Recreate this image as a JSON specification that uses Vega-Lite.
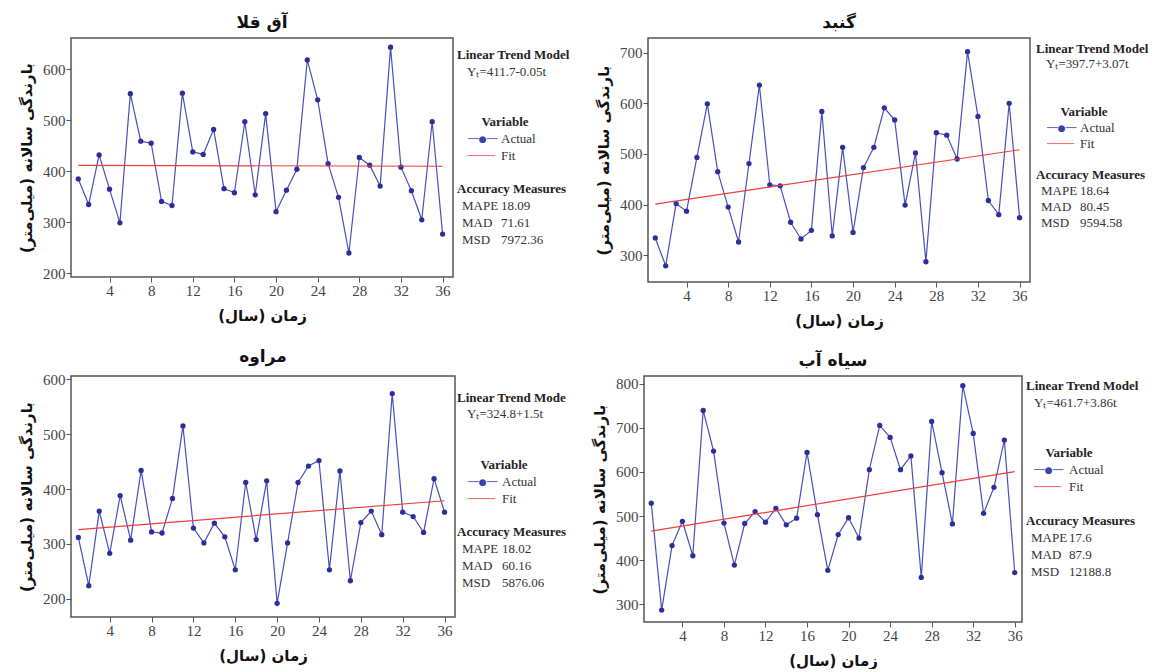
{
  "$schema": "https://vega.github.io/schema/vega-lite/v6.json",
  "padding": {"left": 18, "top": 13, "right": 0, "bottom": 0},
  "background": "white",
  "config": {
    "view": {"stroke": "#555", "strokeWidth": 1.5},
    "axis": {"grid": false, "domain": false, "tickColor": "#555", "tickSize": 5, "tickWidth": 1, "labelFont": "Liberation Serif", "labelFontSize": 15, "labelColor": "#444", "labelPadding": 1, "titleFont": "DejaVu Sans", "titleFontSize": 15, "titleFontWeight": "bold", "titleColor": "#111", "titlePadding": 8},
    "axisX": {"titlePadding": 10},
    "title": {"font": "DejaVu Sans", "fontSize": 17, "fontWeight": "bold", "color": "#111", "frame": "group", "anchor": "middle", "offset": 6},
    "text": {"font": "Liberation Serif", "fontSize": 13, "baseline": "middle", "align": "left", "color": "#333"}
  },
  "datasets": {
    "actual": [
      {"station": "آق قلا", "year": 1, "rain": 385}, {"station": "آق قلا", "year": 2, "rain": 335}, {"station": "آق قلا", "year": 3, "rain": 432}, {"station": "آق قلا", "year": 4, "rain": 365}, {"station": "آق قلا", "year": 5, "rain": 299}, {"station": "آق قلا", "year": 6, "rain": 552}, {"station": "آق قلا", "year": 7, "rain": 459}, {"station": "آق قلا", "year": 8, "rain": 455}, {"station": "آق قلا", "year": 9, "rain": 341}, {"station": "آق قلا", "year": 10, "rain": 333}, {"station": "آق قلا", "year": 11, "rain": 553}, {"station": "آق قلا", "year": 12, "rain": 438}, {"station": "آق قلا", "year": 13, "rain": 433}, {"station": "آق قلا", "year": 14, "rain": 482}, {"station": "آق قلا", "year": 15, "rain": 366}, {"station": "آق قلا", "year": 16, "rain": 358}, {"station": "آق قلا", "year": 17, "rain": 497}, {"station": "آق قلا", "year": 18, "rain": 354}, {"station": "آق قلا", "year": 19, "rain": 513}, {"station": "آق قلا", "year": 20, "rain": 321}, {"station": "آق قلا", "year": 21, "rain": 363}, {"station": "آق قلا", "year": 22, "rain": 404}, {"station": "آق قلا", "year": 23, "rain": 618}, {"station": "آق قلا", "year": 24, "rain": 540}, {"station": "آق قلا", "year": 25, "rain": 415}, {"station": "آق قلا", "year": 26, "rain": 349}, {"station": "آق قلا", "year": 27, "rain": 240}, {"station": "آق قلا", "year": 28, "rain": 427}, {"station": "آق قلا", "year": 29, "rain": 412}, {"station": "آق قلا", "year": 30, "rain": 371}, {"station": "آق قلا", "year": 31, "rain": 643}, {"station": "آق قلا", "year": 32, "rain": 408}, {"station": "آق قلا", "year": 33, "rain": 362}, {"station": "آق قلا", "year": 34, "rain": 305}, {"station": "آق قلا", "year": 35, "rain": 497}, {"station": "آق قلا", "year": 36, "rain": 277},
      {"station": "گنبد", "year": 1, "rain": 334}, {"station": "گنبد", "year": 2, "rain": 279}, {"station": "گنبد", "year": 3, "rain": 402}, {"station": "گنبد", "year": 4, "rain": 387}, {"station": "گنبد", "year": 5, "rain": 493}, {"station": "گنبد", "year": 6, "rain": 599}, {"station": "گنبد", "year": 7, "rain": 465}, {"station": "گنبد", "year": 8, "rain": 395}, {"station": "گنبد", "year": 9, "rain": 326}, {"station": "گنبد", "year": 10, "rain": 481}, {"station": "گنبد", "year": 11, "rain": 636}, {"station": "گنبد", "year": 12, "rain": 439}, {"station": "گنبد", "year": 13, "rain": 437}, {"station": "گنبد", "year": 14, "rain": 365}, {"station": "گنبد", "year": 15, "rain": 332}, {"station": "گنبد", "year": 16, "rain": 349}, {"station": "گنبد", "year": 17, "rain": 584}, {"station": "گنبد", "year": 18, "rain": 338}, {"station": "گنبد", "year": 19, "rain": 513}, {"station": "گنبد", "year": 20, "rain": 345}, {"station": "گنبد", "year": 21, "rain": 473}, {"station": "گنبد", "year": 22, "rain": 513}, {"station": "گنبد", "year": 23, "rain": 591}, {"station": "گنبد", "year": 24, "rain": 567}, {"station": "گنبد", "year": 25, "rain": 399}, {"station": "گنبد", "year": 26, "rain": 502}, {"station": "گنبد", "year": 27, "rain": 287}, {"station": "گنبد", "year": 28, "rain": 542}, {"station": "گنبد", "year": 29, "rain": 537}, {"station": "گنبد", "year": 30, "rain": 490}, {"station": "گنبد", "year": 31, "rain": 702}, {"station": "گنبد", "year": 32, "rain": 574}, {"station": "گنبد", "year": 33, "rain": 408}, {"station": "گنبد", "year": 34, "rain": 380}, {"station": "گنبد", "year": 35, "rain": 600}, {"station": "گنبد", "year": 36, "rain": 374},
      {"station": "مراوه", "year": 1, "rain": 312}, {"station": "مراوه", "year": 2, "rain": 224}, {"station": "مراوه", "year": 3, "rain": 360}, {"station": "مراوه", "year": 4, "rain": 283}, {"station": "مراوه", "year": 5, "rain": 388}, {"station": "مراوه", "year": 6, "rain": 307}, {"station": "مراوه", "year": 7, "rain": 434}, {"station": "مراوه", "year": 8, "rain": 322}, {"station": "مراوه", "year": 9, "rain": 320}, {"station": "مراوه", "year": 10, "rain": 383}, {"station": "مراوه", "year": 11, "rain": 515}, {"station": "مراوه", "year": 12, "rain": 329}, {"station": "مراوه", "year": 13, "rain": 302}, {"station": "مراوه", "year": 14, "rain": 338}, {"station": "مراوه", "year": 15, "rain": 313}, {"station": "مراوه", "year": 16, "rain": 253}, {"station": "مراوه", "year": 17, "rain": 412}, {"station": "مراوه", "year": 18, "rain": 308}, {"station": "مراوه", "year": 19, "rain": 415}, {"station": "مراوه", "year": 20, "rain": 192}, {"station": "مراوه", "year": 21, "rain": 302}, {"station": "مراوه", "year": 22, "rain": 412}, {"station": "مراوه", "year": 23, "rain": 442}, {"station": "مراوه", "year": 24, "rain": 452}, {"station": "مراوه", "year": 25, "rain": 253}, {"station": "مراوه", "year": 26, "rain": 433}, {"station": "مراوه", "year": 27, "rain": 233}, {"station": "مراوه", "year": 28, "rain": 339}, {"station": "مراوه", "year": 29, "rain": 360}, {"station": "مراوه", "year": 30, "rain": 317}, {"station": "مراوه", "year": 31, "rain": 574}, {"station": "مراوه", "year": 32, "rain": 358}, {"station": "مراوه", "year": 33, "rain": 350}, {"station": "مراوه", "year": 34, "rain": 321}, {"station": "مراوه", "year": 35, "rain": 419}, {"station": "مراوه", "year": 36, "rain": 358},
      {"station": "سیاه آب", "year": 1, "rain": 529}, {"station": "سیاه آب", "year": 2, "rain": 287}, {"station": "سیاه آب", "year": 3, "rain": 433}, {"station": "سیاه آب", "year": 4, "rain": 488}, {"station": "سیاه آب", "year": 5, "rain": 410}, {"station": "سیاه آب", "year": 6, "rain": 739}, {"station": "سیاه آب", "year": 7, "rain": 647}, {"station": "سیاه آب", "year": 8, "rain": 484}, {"station": "سیاه آب", "year": 9, "rain": 389}, {"station": "سیاه آب", "year": 10, "rain": 483}, {"station": "سیاه آب", "year": 11, "rain": 510}, {"station": "سیاه آب", "year": 12, "rain": 486}, {"station": "سیاه آب", "year": 13, "rain": 517}, {"station": "سیاه آب", "year": 14, "rain": 480}, {"station": "سیاه آب", "year": 15, "rain": 495}, {"station": "سیاه آب", "year": 16, "rain": 644}, {"station": "سیاه آب", "year": 17, "rain": 503}, {"station": "سیاه آب", "year": 18, "rain": 377}, {"station": "سیاه آب", "year": 19, "rain": 458}, {"station": "سیاه آب", "year": 20, "rain": 496}, {"station": "سیاه آب", "year": 21, "rain": 450}, {"station": "سیاه آب", "year": 22, "rain": 605}, {"station": "سیاه آب", "year": 23, "rain": 705}, {"station": "سیاه آب", "year": 24, "rain": 678}, {"station": "سیاه آب", "year": 25, "rain": 605}, {"station": "سیاه آب", "year": 26, "rain": 636}, {"station": "سیاه آب", "year": 27, "rain": 361}, {"station": "سیاه آب", "year": 28, "rain": 714}, {"station": "سیاه آب", "year": 29, "rain": 598}, {"station": "سیاه آب", "year": 30, "rain": 482}, {"station": "سیاه آب", "year": 31, "rain": 795}, {"station": "سیاه آب", "year": 32, "rain": 687}, {"station": "سیاه آب", "year": 33, "rain": 506}, {"station": "سیاه آب", "year": 34, "rain": 565}, {"station": "سیاه آب", "year": 35, "rain": 672}, {"station": "سیاه آب", "year": 36, "rain": 372}
    ],
    "fit": [
      {"station": "آق قلا", "year": 1, "fit": 411.65}, {"station": "آق قلا", "year": 36, "fit": 409.9},
      {"station": "گنبد", "year": 1, "fit": 400.77}, {"station": "گنبد", "year": 36, "fit": 508.22},
      {"station": "مراوه", "year": 1, "fit": 326.3}, {"station": "مراوه", "year": 36, "fit": 378.8},
      {"station": "سیاه آب", "year": 1, "fit": 465.56}, {"station": "سیاه آب", "year": 36, "fit": 600.66}
    ],
    "side": [
      {"station": "آق قلا", "line": 1, "col": "a", "kind": "head", "text": "Linear Trend Model"},
      {"station": "آق قلا", "line": 2, "col": "a", "kind": "model", "text": "Yₜ=411.7-0.05t"},
      {"station": "آق قلا", "line": 5, "col": "b", "kind": "legendTitle", "text": "Variable"},
      {"station": "آق قلا", "line": 6, "col": "a", "kind": "symbolActual", "text": "──●──"},
      {"station": "آق قلا", "line": 6, "col": "b", "kind": "legend", "text": "Actual"},
      {"station": "آق قلا", "line": 7, "col": "a", "kind": "symbolFit", "text": "─────"},
      {"station": "آق قلا", "line": 7, "col": "b", "kind": "legend", "text": "Fit"},
      {"station": "آق قلا", "line": 9, "col": "a", "kind": "head", "text": "Accuracy Measures"},
      {"station": "آق قلا", "line": 10, "col": "a", "kind": "measure", "text": "MAPE"},
      {"station": "آق قلا", "line": 10, "col": "b", "kind": "value", "text": "18.09"},
      {"station": "آق قلا", "line": 11, "col": "a", "kind": "measure", "text": "MAD"},
      {"station": "آق قلا", "line": 11, "col": "b", "kind": "value", "text": "71.61"},
      {"station": "آق قلا", "line": 12, "col": "a", "kind": "measure", "text": "MSD"},
      {"station": "آق قلا", "line": 12, "col": "b", "kind": "value", "text": "7972.36"},
      {"station": "گنبد", "line": 1, "col": "a", "kind": "head", "text": "Linear Trend Model"},
      {"station": "گنبد", "line": 2, "col": "a", "kind": "model", "text": "Yₜ=397.7+3.07t"},
      {"station": "گنبد", "line": 5, "col": "b", "kind": "legendTitle", "text": "Variable"},
      {"station": "گنبد", "line": 6, "col": "a", "kind": "symbolActual", "text": "──●──"},
      {"station": "گنبد", "line": 6, "col": "b", "kind": "legend", "text": "Actual"},
      {"station": "گنبد", "line": 7, "col": "a", "kind": "symbolFit", "text": "─────"},
      {"station": "گنبد", "line": 7, "col": "b", "kind": "legend", "text": "Fit"},
      {"station": "گنبد", "line": 9, "col": "a", "kind": "head", "text": "Accuracy Measures"},
      {"station": "گنبد", "line": 10, "col": "a", "kind": "measure", "text": "MAPE"},
      {"station": "گنبد", "line": 10, "col": "b", "kind": "value", "text": "18.64"},
      {"station": "گنبد", "line": 11, "col": "a", "kind": "measure", "text": "MAD"},
      {"station": "گنبد", "line": 11, "col": "b", "kind": "value", "text": "80.45"},
      {"station": "گنبد", "line": 12, "col": "a", "kind": "measure", "text": "MSD"},
      {"station": "گنبد", "line": 12, "col": "b", "kind": "value", "text": "9594.58"},
      {"station": "مراوه", "line": 1, "col": "a", "kind": "head", "text": "Linear Trend Mode"},
      {"station": "مراوه", "line": 2, "col": "a", "kind": "model", "text": "Yₜ=324.8+1.5t"},
      {"station": "مراوه", "line": 5, "col": "b", "kind": "legendTitle", "text": "Variable"},
      {"station": "مراوه", "line": 6, "col": "a", "kind": "symbolActual", "text": "──●──"},
      {"station": "مراوه", "line": 6, "col": "b", "kind": "legend", "text": "Actual"},
      {"station": "مراوه", "line": 7, "col": "a", "kind": "symbolFit", "text": "─────"},
      {"station": "مراوه", "line": 7, "col": "b", "kind": "legend", "text": "Fit"},
      {"station": "مراوه", "line": 9, "col": "a", "kind": "head", "text": "Accuracy Measures"},
      {"station": "مراوه", "line": 10, "col": "a", "kind": "measure", "text": "MAPE"},
      {"station": "مراوه", "line": 10, "col": "b", "kind": "value", "text": "18.02"},
      {"station": "مراوه", "line": 11, "col": "a", "kind": "measure", "text": "MAD"},
      {"station": "مراوه", "line": 11, "col": "b", "kind": "value", "text": "60.16"},
      {"station": "مراوه", "line": 12, "col": "a", "kind": "measure", "text": "MSD"},
      {"station": "مراوه", "line": 12, "col": "b", "kind": "value", "text": "5876.06"},
      {"station": "سیاه آب", "line": 1, "col": "a", "kind": "head", "text": "Linear Trend Model"},
      {"station": "سیاه آب", "line": 2, "col": "a", "kind": "model", "text": "Yₜ=461.7+3.86t"},
      {"station": "سیاه آب", "line": 5, "col": "b", "kind": "legendTitle", "text": "Variable"},
      {"station": "سیاه آب", "line": 6, "col": "a", "kind": "symbolActual", "text": "──●──"},
      {"station": "سیاه آب", "line": 6, "col": "b", "kind": "legend", "text": "Actual"},
      {"station": "سیاه آب", "line": 7, "col": "a", "kind": "symbolFit", "text": "─────"},
      {"station": "سیاه آب", "line": 7, "col": "b", "kind": "legend", "text": "Fit"},
      {"station": "سیاه آب", "line": 9, "col": "a", "kind": "head", "text": "Accuracy Measures"},
      {"station": "سیاه آب", "line": 10, "col": "a", "kind": "measure", "text": "MAPE"},
      {"station": "سیاه آب", "line": 10, "col": "b", "kind": "value", "text": "17.6"},
      {"station": "سیاه آب", "line": 11, "col": "a", "kind": "measure", "text": "MAD"},
      {"station": "سیاه آب", "line": 11, "col": "b", "kind": "value", "text": "87.9"},
      {"station": "سیاه آب", "line": 12, "col": "a", "kind": "measure", "text": "MSD"},
      {"station": "سیاه آب", "line": 12, "col": "b", "kind": "value", "text": "12188.8"}
    ]
  },
  "spacing": 18,
  "vconcat": [
    {
      "spacing": 0,
      "hconcat": [
        {
          "width": 382, "height": 239,
          "title": {"text": "آق قلا"},
          "layer": [
            {"data": {"name": "actual"}, "transform": [{"filter": "datum.station === 'آق قلا'"}], "mark": {"type": "line", "color": "#4a4fb8", "strokeWidth": 1.2},
             "encoding": {"x": {"field": "year", "type": "quantitative", "scale": {"domain": [0.3, 37], "nice": false, "zero": false}, "axis": {"values": [4, 8, 12, 16, 20, 24, 28, 32, 36], "title": "زمان (سال)‏"}},
                          "y": {"field": "rain", "type": "quantitative", "scale": {"domain": [193, 661], "nice": false, "zero": false}, "axis": {"values": [200, 300, 400, 500, 600], "title": "بارندگی سالانه (میلی‌متر)‏"}}}},
            {"data": {"name": "actual"}, "transform": [{"filter": "datum.station === 'آق قلا'"}], "mark": {"type": "circle", "color": "#2b2f9c", "size": 28, "opacity": 1},
             "encoding": {"x": {"field": "year", "type": "quantitative"}, "y": {"field": "rain", "type": "quantitative"}}},
            {"data": {"name": "fit"}, "transform": [{"filter": "datum.station === 'آق قلا'"}], "mark": {"type": "line", "color": "#f23c3c", "strokeWidth": 1.2},
             "encoding": {"x": {"field": "year", "type": "quantitative"}, "y": {"field": "fit", "type": "quantitative"}}}
          ]
        },
        {
          "width": 141, "height": 239,
          "view": {"stroke": null},
          "data": {"name": "side"},
          "transform": [{"filter": "datum.station === 'آق قلا'"}],
          "encoding": {
            "x": {"field": "col", "type": "ordinal", "scale": {"type": "point", "domain": ["a", "b"], "range": [3, 47], "padding": 0}, "axis": null},
            "y": {"field": "line", "type": "quantitative", "scale": {"domain": [0, 14.2], "reverse": true, "nice": false, "zero": false}, "axis": null},
            "text": {"field": "text"}
          },
          "layer": [
            {"transform": [{"filter": "datum.kind === 'head'"}], "mark": {"type": "text", "fontWeight": "bold", "color": "#222"}},
            {"transform": [{"filter": "datum.kind === 'legendTitle'"}], "mark": {"type": "text", "fontWeight": "bold", "color": "#222", "align": "center", "dx": 4}},
            {"transform": [{"filter": "datum.kind === 'model'"}], "mark": {"type": "text", "dx": 10}},
            {"transform": [{"filter": "datum.kind === 'measure'"}], "mark": {"type": "text", "dx": 5}},
            {"transform": [{"filter": "datum.kind === 'value' || datum.kind === 'legend'"}], "mark": {"type": "text"}},
            {"transform": [{"filter": "datum.kind === 'symbolActual'"}], "mark": {"type": "text", "font": "DejaVu Sans", "fontSize": 9, "color": "#3a3fae", "dx": 11}},
            {"transform": [{"filter": "datum.kind === 'symbolFit'"}], "mark": {"type": "text", "font": "DejaVu Sans", "fontSize": 9, "color": "#f23c3c", "dx": 11}}
          ]
        },
        {
          "width": 382, "height": 244,
          "title": {"text": "گنبد"},
          "layer": [
            {"data": {"name": "actual"}, "transform": [{"filter": "datum.station === 'گنبد'"}], "mark": {"type": "line", "color": "#4a4fb8", "strokeWidth": 1.2},
             "encoding": {"x": {"field": "year", "type": "quantitative", "scale": {"domain": [0.3, 37], "nice": false, "zero": false}, "axis": {"values": [4, 8, 12, 16, 20, 24, 28, 32, 36], "title": "زمان (سال)‏"}},
                          "y": {"field": "rain", "type": "quantitative", "scale": {"domain": [247, 729], "nice": false, "zero": false}, "axis": {"values": [300, 400, 500, 600, 700], "title": "بارندگی سالانه (میلی‌متر)‏"}}}},
            {"data": {"name": "actual"}, "transform": [{"filter": "datum.station === 'گنبد'"}], "mark": {"type": "circle", "color": "#2b2f9c", "size": 28, "opacity": 1},
             "encoding": {"x": {"field": "year", "type": "quantitative"}, "y": {"field": "rain", "type": "quantitative"}}},
            {"data": {"name": "fit"}, "transform": [{"filter": "datum.station === 'گنبد'"}], "mark": {"type": "line", "color": "#f23c3c", "strokeWidth": 1.2},
             "encoding": {"x": {"field": "year", "type": "quantitative"}, "y": {"field": "fit", "type": "quantitative"}}}
          ]
        },
        {
          "width": 122, "height": 244,
          "view": {"stroke": null},
          "data": {"name": "side"},
          "transform": [{"filter": "datum.station === 'گنبد'"}],
          "encoding": {
            "x": {"field": "col", "type": "ordinal", "scale": {"type": "point", "domain": ["a", "b"], "range": [5, 49], "padding": 0}, "axis": null},
            "y": {"field": "line", "type": "quantitative", "scale": {"domain": [0.33, 15.72], "reverse": true, "nice": false, "zero": false}, "axis": null},
            "text": {"field": "text"}
          },
          "layer": [
            {"transform": [{"filter": "datum.kind === 'head'"}], "mark": {"type": "text", "fontWeight": "bold", "color": "#222"}},
            {"transform": [{"filter": "datum.kind === 'legendTitle'"}], "mark": {"type": "text", "fontWeight": "bold", "color": "#222", "align": "center", "dx": 4}},
            {"transform": [{"filter": "datum.kind === 'model'"}], "mark": {"type": "text", "dx": 10}},
            {"transform": [{"filter": "datum.kind === 'measure'"}], "mark": {"type": "text", "dx": 5}},
            {"transform": [{"filter": "datum.kind === 'value' || datum.kind === 'legend'"}], "mark": {"type": "text"}},
            {"transform": [{"filter": "datum.kind === 'symbolActual'"}], "mark": {"type": "text", "font": "DejaVu Sans", "fontSize": 9, "color": "#3a3fae", "dx": 11}},
            {"transform": [{"filter": "datum.kind === 'symbolFit'"}], "mark": {"type": "text", "font": "DejaVu Sans", "fontSize": 9, "color": "#f23c3c", "dx": 11}}
          ]
        }
      ]
    },
    {
      "spacing": 0,
      "hconcat": [
        {
          "width": 384, "height": 241,
          "title": {"text": "مراوه"},
          "layer": [
            {"data": {"name": "actual"}, "transform": [{"filter": "datum.station === 'مراوه'"}], "mark": {"type": "line", "color": "#4a4fb8", "strokeWidth": 1.2},
             "encoding": {"x": {"field": "year", "type": "quantitative", "scale": {"domain": [0.3, 37], "nice": false, "zero": false}, "axis": {"values": [4, 8, 12, 16, 20, 24, 28, 32, 36], "title": "زمان (سال)‏"}},
                          "y": {"field": "rain", "type": "quantitative", "scale": {"domain": [167, 606], "nice": false, "zero": false}, "axis": {"values": [200, 300, 400, 500, 600], "title": "بارندگی سالانه (میلی‌متر)‏"}}}},
            {"data": {"name": "actual"}, "transform": [{"filter": "datum.station === 'مراوه'"}], "mark": {"type": "circle", "color": "#2b2f9c", "size": 28, "opacity": 1},
             "encoding": {"x": {"field": "year", "type": "quantitative"}, "y": {"field": "rain", "type": "quantitative"}}},
            {"data": {"name": "fit"}, "transform": [{"filter": "datum.station === 'مراوه'"}], "mark": {"type": "line", "color": "#f23c3c", "strokeWidth": 1.2},
             "encoding": {"x": {"field": "year", "type": "quantitative"}, "y": {"field": "fit", "type": "quantitative"}}}
          ]
        },
        {
          "width": 135, "height": 241,
          "view": {"stroke": null},
          "data": {"name": "side"},
          "transform": [{"filter": "datum.station === 'مراوه'"}],
          "encoding": {
            "x": {"field": "col", "type": "ordinal", "scale": {"type": "point", "domain": ["a", "b"], "range": [1, 46], "padding": 0}, "axis": null},
            "y": {"field": "line", "type": "quantitative", "scale": {"domain": [-0.29, 14.05], "reverse": true, "nice": false, "zero": false}, "axis": null},
            "text": {"field": "text"}
          },
          "layer": [
            {"transform": [{"filter": "datum.kind === 'head'"}], "mark": {"type": "text", "fontWeight": "bold", "color": "#222"}},
            {"transform": [{"filter": "datum.kind === 'legendTitle'"}], "mark": {"type": "text", "fontWeight": "bold", "color": "#222", "align": "center", "dx": 2}},
            {"transform": [{"filter": "datum.kind === 'model'"}], "mark": {"type": "text", "dx": 10}},
            {"transform": [{"filter": "datum.kind === 'measure'"}], "mark": {"type": "text", "dx": 5}},
            {"transform": [{"filter": "datum.kind === 'value' || datum.kind === 'legend'"}], "mark": {"type": "text"}},
            {"transform": [{"filter": "datum.kind === 'symbolActual'"}], "mark": {"type": "text", "font": "DejaVu Sans", "fontSize": 9, "color": "#3a3fae", "dx": 11}},
            {"transform": [{"filter": "datum.kind === 'symbolFit'"}], "mark": {"type": "text", "font": "DejaVu Sans", "fontSize": 9, "color": "#f23c3c", "dx": 11}}
          ]
        },
        {
          "width": 378, "height": 246,
          "title": {"text": "سیاه آب"},
          "layer": [
            {"data": {"name": "actual"}, "transform": [{"filter": "datum.station === 'سیاه آب'"}], "mark": {"type": "line", "color": "#4a4fb8", "strokeWidth": 1.2},
             "encoding": {"x": {"field": "year", "type": "quantitative", "scale": {"domain": [0.3, 36.7], "nice": false, "zero": false}, "axis": {"values": [4, 8, 12, 16, 20, 24, 28, 32, 36], "title": "زمان (سال)‏"}},
                          "y": {"field": "rain", "type": "quantitative", "scale": {"domain": [260, 817], "nice": false, "zero": false}, "axis": {"values": [300, 400, 500, 600, 700, 800], "title": "بارندگی سالانه (میلی‌متر)‏"}}}},
            {"data": {"name": "actual"}, "transform": [{"filter": "datum.station === 'سیاه آب'"}], "mark": {"type": "circle", "color": "#2b2f9c", "size": 28, "opacity": 1},
             "encoding": {"x": {"field": "year", "type": "quantitative"}, "y": {"field": "rain", "type": "quantitative"}}},
            {"data": {"name": "fit"}, "transform": [{"filter": "datum.station === 'سیاه آب'"}], "mark": {"type": "line", "color": "#f23c3c", "strokeWidth": 1.2},
             "encoding": {"x": {"field": "year", "type": "quantitative"}, "y": {"field": "fit", "type": "quantitative"}}}
          ]
        },
        {
          "width": 130, "height": 246,
          "view": {"stroke": null},
          "data": {"name": "side"},
          "transform": [{"filter": "datum.station === 'سیاه آب'"}],
          "encoding": {
            "x": {"field": "col", "type": "ordinal", "scale": {"type": "point", "domain": ["a", "b"], "range": [3, 46], "padding": 0}, "axis": null},
            "y": {"field": "line", "type": "quantitative", "scale": {"domain": [0.43, 14.97], "reverse": true, "nice": false, "zero": false}, "axis": null},
            "text": {"field": "text"}
          },
          "layer": [
            {"transform": [{"filter": "datum.kind === 'head'"}], "mark": {"type": "text", "fontWeight": "bold", "color": "#222"}},
            {"transform": [{"filter": "datum.kind === 'legendTitle'"}], "mark": {"type": "text", "fontWeight": "bold", "color": "#222", "align": "center", "dx": 0}},
            {"transform": [{"filter": "datum.kind === 'model'"}], "mark": {"type": "text", "dx": 8}},
            {"transform": [{"filter": "datum.kind === 'measure'"}], "mark": {"type": "text", "dx": 5}},
            {"transform": [{"filter": "datum.kind === 'value' || datum.kind === 'legend'"}], "mark": {"type": "text"}},
            {"transform": [{"filter": "datum.kind === 'symbolActual'"}], "mark": {"type": "text", "font": "DejaVu Sans", "fontSize": 9, "color": "#3a3fae", "dx": 8}},
            {"transform": [{"filter": "datum.kind === 'symbolFit'"}], "mark": {"type": "text", "font": "DejaVu Sans", "fontSize": 9, "color": "#f23c3c", "dx": 8}}
          ]
        }
      ]
    }
  ]
}
